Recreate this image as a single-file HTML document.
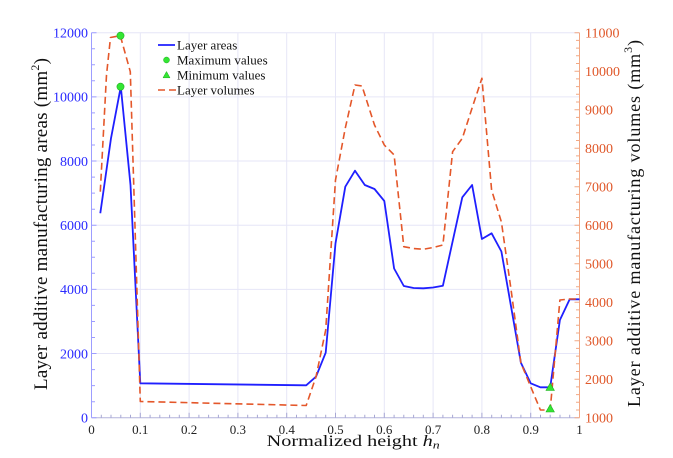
<!DOCTYPE html>
<html><head><meta charset="utf-8"><style>
html,body{margin:0;padding:0;background:#fff;}
svg{display:block;}
text{font-family:"Liberation Serif","DejaVu Serif",serif;}
</style></head><body>
<svg width="673" height="458" viewBox="0 0 673 458" xmlns="http://www.w3.org/2000/svg">
<rect width="673" height="458" fill="#fff"/>
<!-- grid -->
<g stroke="#e6e6f7" stroke-width="1">
<line x1="140.3" y1="32.7" x2="140.3" y2="417.7"/>
<line x1="189.1" y1="32.7" x2="189.1" y2="417.7"/>
<line x1="237.9" y1="32.7" x2="237.9" y2="417.7"/>
<line x1="286.7" y1="32.7" x2="286.7" y2="417.7"/>
<line x1="335.5" y1="32.7" x2="335.5" y2="417.7"/>
<line x1="384.3" y1="32.7" x2="384.3" y2="417.7"/>
<line x1="433.1" y1="32.7" x2="433.1" y2="417.7"/>
<line x1="481.9" y1="32.7" x2="481.9" y2="417.7"/>
<line x1="530.7" y1="32.7" x2="530.7" y2="417.7"/>
<line x1="91.5" y1="32.7" x2="579.5" y2="32.7"/>
<line x1="91.5" y1="96.9" x2="579.5" y2="96.9"/>
<line x1="91.5" y1="161.0" x2="579.5" y2="161.0"/>
<line x1="91.5" y1="225.2" x2="579.5" y2="225.2"/>
<line x1="91.5" y1="289.4" x2="579.5" y2="289.4"/>
<line x1="91.5" y1="353.5" x2="579.5" y2="353.5"/>
</g>
<!-- axes -->
<line x1="91.5" y1="32.7" x2="91.5" y2="417.7" stroke="#9d9dff" stroke-width="1"/>
<line x1="91.5" y1="417.7" x2="579.5" y2="417.7" stroke="#b4b4dc" stroke-width="1"/>
<line x1="579.5" y1="32.7" x2="579.5" y2="417.7" stroke="#f2a884" stroke-width="1"/>
<!-- left ticks -->
<g stroke="#9d9dff" stroke-width="1">
<path d="M91.5 417.7h5M91.5 401.7h3.5M91.5 385.6h3.5M91.5 369.6h3.5M91.5 353.5h5M91.5 337.5h3.5M91.5 321.5h3.5M91.5 305.4h3.5M91.5 289.4h5M91.5 273.3h3.5M91.5 257.3h3.5M91.5 241.2h3.5M91.5 225.2h5M91.5 209.2h3.5M91.5 193.1h3.5M91.5 177.1h3.5M91.5 161.0h5M91.5 145.0h3.5M91.5 128.9h3.5M91.5 112.9h3.5M91.5 96.9h5M91.5 80.8h3.5M91.5 64.8h3.5M91.5 48.7h3.5M91.5 32.7h5"/>
</g>
<!-- bottom ticks -->
<g stroke="#a8a8d4" stroke-width="1">
<path d="M101.3 417.7v-3M111.0 417.7v-3M120.8 417.7v-3M130.5 417.7v-3M140.3 417.7v-5M150.1 417.7v-3M159.8 417.7v-3M169.6 417.7v-3M179.3 417.7v-3M189.1 417.7v-5M198.9 417.7v-3M208.6 417.7v-3M218.4 417.7v-3M228.1 417.7v-3M237.9 417.7v-5M247.7 417.7v-3M257.4 417.7v-3M267.2 417.7v-3M276.9 417.7v-3M286.7 417.7v-5M296.5 417.7v-3M306.2 417.7v-3M316.0 417.7v-3M325.7 417.7v-3M335.5 417.7v-5M345.3 417.7v-3M355.0 417.7v-3M364.8 417.7v-3M374.5 417.7v-3M384.3 417.7v-5M394.1 417.7v-3M403.8 417.7v-3M413.6 417.7v-3M423.3 417.7v-3M433.1 417.7v-5M442.9 417.7v-3M452.6 417.7v-3M462.4 417.7v-3M472.1 417.7v-3M481.9 417.7v-5M491.7 417.7v-3M501.4 417.7v-3M511.2 417.7v-3M520.9 417.7v-3M530.7 417.7v-5M540.5 417.7v-3M550.2 417.7v-3M560.0 417.7v-3M569.7 417.7v-3"/>
</g>
<!-- right ticks -->
<g stroke="#f2a884" stroke-width="1">
<path d="M579.5 417.7h-5M579.5 410.0h-3.5M579.5 402.3h-3.5M579.5 394.6h-3.5M579.5 386.9h-3.5M579.5 379.2h-5M579.5 371.5h-3.5M579.5 363.8h-3.5M579.5 356.1h-3.5M579.5 348.4h-3.5M579.5 340.7h-5M579.5 333.0h-3.5M579.5 325.3h-3.5M579.5 317.6h-3.5M579.5 309.9h-3.5M579.5 302.2h-5M579.5 294.5h-3.5M579.5 286.8h-3.5M579.5 279.1h-3.5M579.5 271.4h-3.5M579.5 263.7h-5M579.5 256.0h-3.5M579.5 248.3h-3.5M579.5 240.6h-3.5M579.5 232.9h-3.5M579.5 225.2h-5M579.5 217.5h-3.5M579.5 209.8h-3.5M579.5 202.1h-3.5M579.5 194.4h-3.5M579.5 186.7h-5M579.5 179.0h-3.5M579.5 171.3h-3.5M579.5 163.6h-3.5M579.5 155.9h-3.5M579.5 148.2h-5M579.5 140.5h-3.5M579.5 132.8h-3.5M579.5 125.1h-3.5M579.5 117.4h-3.5M579.5 109.7h-5M579.5 102.0h-3.5M579.5 94.3h-3.5M579.5 86.6h-3.5M579.5 78.9h-3.5M579.5 71.2h-5M579.5 63.5h-3.5M579.5 55.8h-3.5M579.5 48.1h-3.5M579.5 40.4h-3.5M579.5 32.7h-5"/>
</g>
<!-- left tick labels -->
<g fill="#2b2bff" font-size="14" text-anchor="end">
<text x="88" y="422.5">0</text>
<text x="88" y="358.3">2000</text>
<text x="88" y="294.2">4000</text>
<text x="88" y="230.0">6000</text>
<text x="88" y="165.8">8000</text>
<text x="88" y="101.7">10000</text>
<text x="88" y="37.5">12000</text>
</g>
<!-- right tick labels -->
<g fill="#e0582a" font-size="14">
<text x="585" y="422.5">1000</text>
<text x="585" y="384.0">2000</text>
<text x="585" y="345.5">3000</text>
<text x="585" y="307.0">4000</text>
<text x="585" y="268.5">5000</text>
<text x="585" y="230.0">6000</text>
<text x="585" y="191.5">7000</text>
<text x="585" y="153.0">8000</text>
<text x="585" y="114.5">9000</text>
<text x="585" y="76.0">10000</text>
<text x="585" y="37.5">11000</text>
</g>
<!-- x tick labels -->
<g fill="#222" font-size="13" text-anchor="middle">
<text x="91.5" y="434">0</text>
<text x="140.3" y="434">0.1</text>
<text x="189.1" y="434">0.2</text>
<text x="237.9" y="434">0.3</text>
<text x="286.7" y="434">0.4</text>
<text x="335.5" y="434">0.5</text>
<text x="384.3" y="434">0.6</text>
<text x="433.1" y="434">0.7</text>
<text x="481.9" y="434">0.8</text>
<text x="530.7" y="434">0.9</text>
<text x="579.5" y="434">1</text>
</g>
<!-- axis titles -->
<text x="266.7" y="446" font-size="16" fill="#111" textLength="173" lengthAdjust="spacingAndGlyphs">Normalized height <tspan font-style="italic">h</tspan><tspan font-style="italic" font-size="11" dy="2.5">n</tspan></text>
<text transform="translate(47,390) rotate(-90)" x="0" y="0" font-size="19" fill="#111" textLength="332" lengthAdjust="spacing">Layer additive manufacturing areas (mm<tspan font-size="12" dy="-8">2</tspan><tspan dy="8">)</tspan></text>
<text transform="translate(640,407) rotate(-90)" x="0" y="0" font-size="18" fill="#111" textLength="367" lengthAdjust="spacing">Layer additive manufacturing volumes (mm<tspan font-size="12" dy="-8">3</tspan><tspan dy="8">)</tspan></text>
<!-- series -->
<polyline fill="none" stroke="#1f1fff" stroke-width="1.8" stroke-linejoin="round" points="100.3,213.3 111.0,138.3 120.8,86.7 130.5,185 140.3,383.3 306.2,385.3 316.0,376.7 325.7,352.7 335.5,243.3 345.3,186.7 355.0,170.7 364.8,185 374.5,189 384.3,201 394.1,268.5 403.8,286 413.6,288 423.3,288.3 433.1,287.5 442.9,285.7 462.3,197.3 472.1,185 481.9,239 491.6,233.3 501.4,251.5 520.9,362.7 530.7,383.3 540.4,387.3 550.2,387.3 559.9,320 569.7,299.3 579.5,299.3"/>
<polyline fill="none" stroke="#e4572a" stroke-width="1.6" stroke-dasharray="7 4" stroke-linejoin="round" points="100.3,191.7 106.5,75 110.5,37.5 120.3,35.7 130.3,71.7 140.3,401.5 306.2,405.5 316,376.7 325.7,330 335.5,180 345.3,128 355,85 362,86 374.5,125 384.3,145 394.1,155 403.8,246.7 413.6,248.5 423.3,249.3 433.1,247.5 442.9,245 452.6,151.7 462.3,138.3 472.1,108 481.9,78.3 491.6,190 501.4,222 511.1,290 520.9,363 530.7,386.7 540.4,410 550.2,410 559.9,300 569.7,299 579.5,299"/>
<!-- markers -->
<g fill="#33e633" stroke="#1fae1f" stroke-width="0.6">
<circle cx="120.5" cy="86.7" r="3.6"/>
<circle cx="120.5" cy="35.7" r="3.6"/>
<polygon points="550.2,383 554.4,390.5 546,390.5"/>
<polygon points="550.2,404.5 554.4,412 546,412"/>
</g>
<!-- legend -->
<line x1="158" y1="45" x2="175" y2="45" stroke="#1f1fff" stroke-width="1.8"/>
<circle cx="166.5" cy="60" r="3" fill="#33e633" stroke="#1fae1f" stroke-width="0.5"/>
<polygon points="166.5,71.5 170,77.8 163,77.8" fill="#33e633" stroke="#1fae1f" stroke-width="0.5"/>
<line x1="158" y1="90" x2="176" y2="90" stroke="#e4572a" stroke-width="1.6" stroke-dasharray="7 4"/>
<g font-size="13" fill="#111">
<text x="177" y="49.5">Layer areas</text>
<text x="177" y="64.5">Maximum values</text>
<text x="177" y="79.5">Minimum values</text>
<text x="177" y="94.5">Layer volumes</text>
</g>
</svg>
</body></html>
